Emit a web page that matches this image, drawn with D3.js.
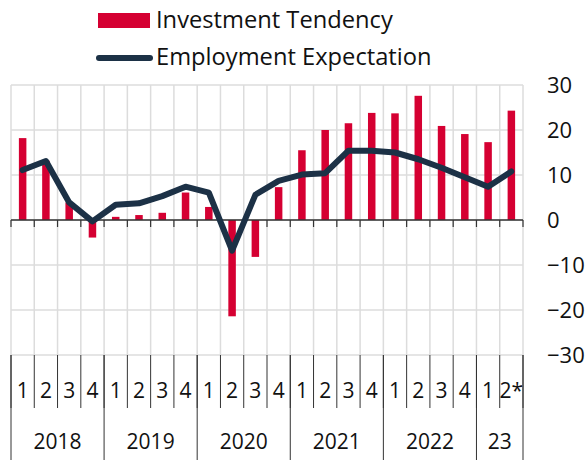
<!DOCTYPE html>
<html>
<head>
<meta charset="utf-8">
<script src="https://cdn.jsdelivr.net/npm/d3@7"></script>
<style>
  body { margin: 0; background: #fff; }
  svg { display: block; font-family: "Open Sans", sans-serif; }
</style>
</head>
<body>
<svg id="chart"></svg>
<script>
// quarters 2018 Q1 .. 2023 Q2
const quarters = ['1','2','3','4','1','2','3','4','1','2','3','4','1','2','3','4','1','2','3','4','1','2*'];
const years = ['2018', '2019', '2020', '2021', '2022', '23'];
const quartersPerYear = [4, 4, 4, 4, 4, 2];
const investment = [18.2, 13.2, 3.9, -3.9, 0.7, 1.1, 1.6, 6.1, 2.9, -21.4, -8.2, 7.3,
                    15.5, 20.0, 21.5, 23.8, 23.7, 27.6, 20.9, 19.1, 17.3, 24.3];
const employment = [11.1, 13.1, 3.9, -0.3, 3.4, 3.7, 5.3, 7.4, 6.1, -6.8, 5.6, 8.7,
                    10.1, 10.4, 15.4, 15.4, 15.0, 13.5, 11.6, 9.5, 7.4, 10.8];
const yTicks = [30, 20, 10, 0, -10, -20, -30];

const width = 585, height = 460;
const plot = { left: 11, right: 523, top: 85, bottom: 355 };
const red = '#d50032', navy = '#1c3146', grid = '#dcdcdc', axisCol = '#333';

const svg = d3.select('#chart').attr('width', width).attr('height', height);

const idx = d3.range(quarters.length);
const x = d3.scaleBand().domain(idx).range([plot.left, plot.right]).padding(0);
const y = d3.scaleLinear().domain([-30, 30]).range([plot.bottom, plot.top]);

// grid
const edges = idx.map(i => x(i)).concat([plot.right]);
svg.append('g')
  .selectAll('line')
  .data(yTicks)
  .join('line')
    .attr('x1', plot.left).attr('x2', plot.right)
    .attr('y1', d => y(d)).attr('y2', d => y(d))
    .attr('stroke', grid).attr('stroke-width', 1.5);
svg.append('g')
  .selectAll('line')
  .data(edges)
  .join('line')
    .attr('x1', d => d).attr('x2', d => d)
    .attr('y1', plot.top).attr('y2', plot.bottom)
    .attr('stroke', grid).attr('stroke-width', 1.5);

// bars
const barW = 7.5;
svg.append('g')
  .selectAll('rect')
  .data(investment)
  .join('rect')
    .attr('x', (d, i) => x(i) + x.bandwidth() / 2 - barW / 2)
    .attr('y', d => y(Math.max(0, d)))
    .attr('width', barW)
    .attr('height', d => Math.abs(y(d) - y(0)))
    .attr('fill', red);

// zero line with ticks
svg.append('line')
  .attr('x1', plot.left).attr('x2', plot.right)
  .attr('y1', y(0)).attr('y2', y(0))
  .attr('stroke', axisCol).attr('stroke-width', 1.5);
svg.append('g')
  .selectAll('line')
  .data(edges)
  .join('line')
    .attr('x1', d => d).attr('x2', d => d)
    .attr('y1', y(0)).attr('y2', y(0) + 7)
    .attr('stroke', axisCol).attr('stroke-width', 1.2);

// line
const line = d3.line()
  .x((d, i) => x(i) + x.bandwidth() / 2)
  .y(d => y(d));
svg.append('path')
  .datum(employment)
  .attr('d', line)
  .attr('fill', 'none')
  .attr('stroke', navy)
  .attr('stroke-width', 6)
  .attr('stroke-linejoin', 'round')
  .attr('stroke-linecap', 'round');

// right axis
const yAxis = d3.axisRight(y).tickValues(yTicks).tickSize(0).tickPadding(0);
const ga = svg.append('g')
  .attr('transform', `translate(547,0)`)
  .call(yAxis);
ga.select('.domain').remove();
ga.selectAll('text')
  .attr('font-family', '"Open Sans", sans-serif')
  .attr('font-size', 22)
  .attr('fill', '#111')
  .attr('text-anchor', 'start');

// category axis
const catG = svg.append('g');
catG.selectAll('line.q')
  .data(edges)
  .join('line')
    .attr('class', 'q')
    .attr('x1', d => d).attr('x2', d => d)
    .attr('y1', plot.bottom).attr('y2', 408)
    .attr('stroke', axisCol).attr('stroke-width', 1);
catG.selectAll('text.q')
  .data(quarters)
  .join('text')
    .attr('class', 'q')
    .attr('x', (d, i) => x(i) + x.bandwidth() / 2)
    .attr('y', 398)
    .attr('text-anchor', 'middle')
    .attr('font-size', 21)
    .attr('fill', '#111')
    .text(d => d);

let start = 0;
const yearSpans = years.map((yr, k) => {
  const s = start;
  start += quartersPerYear[k];
  return { yr, x0: x(s), x1: start < quarters.length ? x(start) : plot.right };
});
const yearEdges = [plot.left].concat(yearSpans.map(d => d.x1));
catG.selectAll('line.y')
  .data(yearEdges)
  .join('line')
    .attr('class', 'y')
    .attr('x1', d => d).attr('x2', d => d)
    .attr('y1', plot.bottom).attr('y2', height)
    .attr('stroke', axisCol).attr('stroke-width', 1);
catG.selectAll('text.y')
  .data(yearSpans)
  .join('text')
    .attr('class', 'y')
    .attr('x', d => (d.x0 + d.x1) / 2)
    .attr('y', 449)
    .attr('text-anchor', 'middle')
    .attr('font-size', 21)
    .attr('fill', '#111')
    .text(d => d.yr);

// legend
const lg = svg.append('g');
lg.append('rect').attr('x', 98).attr('y', 13).attr('width', 52).attr('height', 15).attr('fill', red);
lg.append('text').attr('x', 156).attr('y', 28).attr('font-size', 23.7).attr('fill', '#111').text('Investment Tendency');
lg.append('line').attr('x1', 99).attr('x2', 150).attr('y1', 58).attr('y2', 58)
  .attr('stroke', navy).attr('stroke-width', 6).attr('stroke-linecap', 'round');
lg.append('text').attr('x', 156).attr('y', 64.5).attr('font-size', 23.7).attr('fill', '#111').text('Employment Expectation');
</script>
</body>
</html>
